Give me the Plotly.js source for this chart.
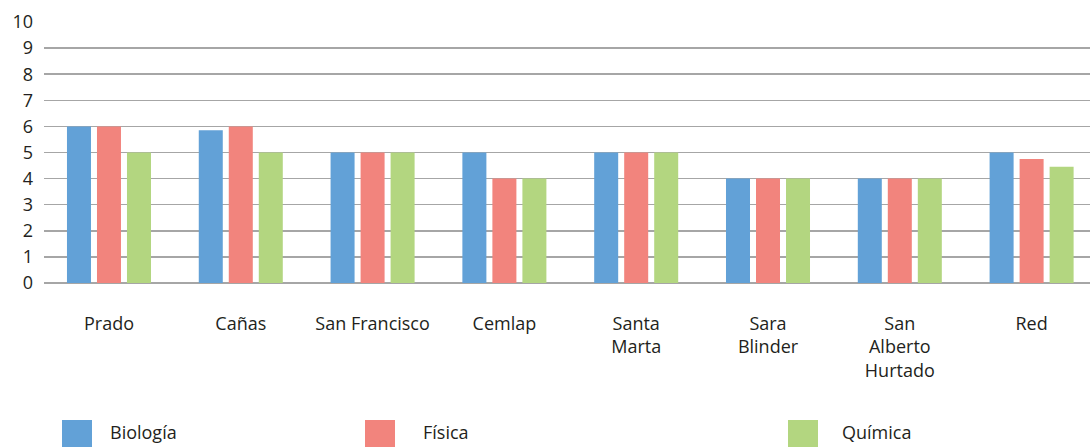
<!DOCTYPE html>
<html><head><meta charset="utf-8">
<script src="https://cdn.plot.ly/plotly-3.0.1.min.js"></script>
<style>html,body{margin:0;padding:0;background:#fff}#chart{width:1090px;height:447px}</style>
</head><body><div id="chart"></div>
<script>
const categories = ["Prado", "Cañas", "San Francisco", "Cemlap", "Santa<br>Marta", "Sara<br>Blinder", "San<br>Alberto<br>Hurtado", "Red"];
const seriesNames = ["Biología", "Física", "Química"];
const biologia = [6, 5.85, 5, 5, 5, 4, 4, 5];
const fisica = [6, 6, 5, 4, 5, 4, 4, 4.75];
const quimica = [5, 5, 5, 4, 5, 4, 4, 4.45];
const colors = ["#62A1D7", "#F2847D", "#B3D680"];
const yTicks = [0,1,2,3,4,5,6,7,8,9,10];

const W = 1090, H = 447, L = 44, R = 0, T = 22, B = 164;
const pw = W - L - R, ph = H - T - B;
const px = x => (x - L) / pw;
const py = y => (H - B - y) / ph;

const data = [biologia, fisica, quimica].map((vals, i) => ({
  type: 'bar', x: categories, y: vals, name: seriesNames[i],
  marker: {color: colors[i]}, showlegend: false, hoverinfo: 'x+y'
}));

const legendSq = [62, 365, 788];
const legendTx = [108, 421, 840];
const shapes = [], annotations = [];
seriesNames.forEach((n, i) => {
  shapes.push({type: 'rect', xref: 'paper', yref: 'paper',
    x0: px(legendSq[i]), x1: px(legendSq[i] + 30), y0: py(447), y1: py(420),
    fillcolor: colors[i], line: {width: 0}});
  annotations.push({xref: 'paper', yref: 'paper', x: px(legendTx[i]), y: py(446),
    xanchor: 'left', yanchor: 'bottom', text: n, showarrow: false,
    font: {size: 18, color: '#231f20'}});
});

const layout = {
  width: W, height: H,
  margin: {l: L, r: R, t: T, b: B},
  paper_bgcolor: '#fff', plot_bgcolor: '#fff',
  font: {family: 'Open Sans, sans-serif', size: 17, color: '#231f20'},
  barmode: 'group', bargap: 0.317, bargroupgap: 0.2,
  showlegend: false,
  xaxis: {type: 'category', range: [-0.493, 7.443], showgrid: false, zeroline: false, showline: false,
    ticks: '', ticklabelstandoff: 28, tickfont: {size: 18}},
  yaxis: {range: [0, 10], tickvals: yTicks, showgrid: true, gridcolor: '#a6a6a6', gridwidth: 1.5,
    zeroline: true, zerolinecolor: '#a6a6a6', zerolinewidth: 1.5, showline: false,
    ticks: '', ticklabelstandoff: 10, tickfont: {size: 18}},
  shapes: shapes, annotations: annotations
};
Plotly.newPlot('chart', data, layout, {displayModeBar: false, staticPlot: true});
</script></body></html>
